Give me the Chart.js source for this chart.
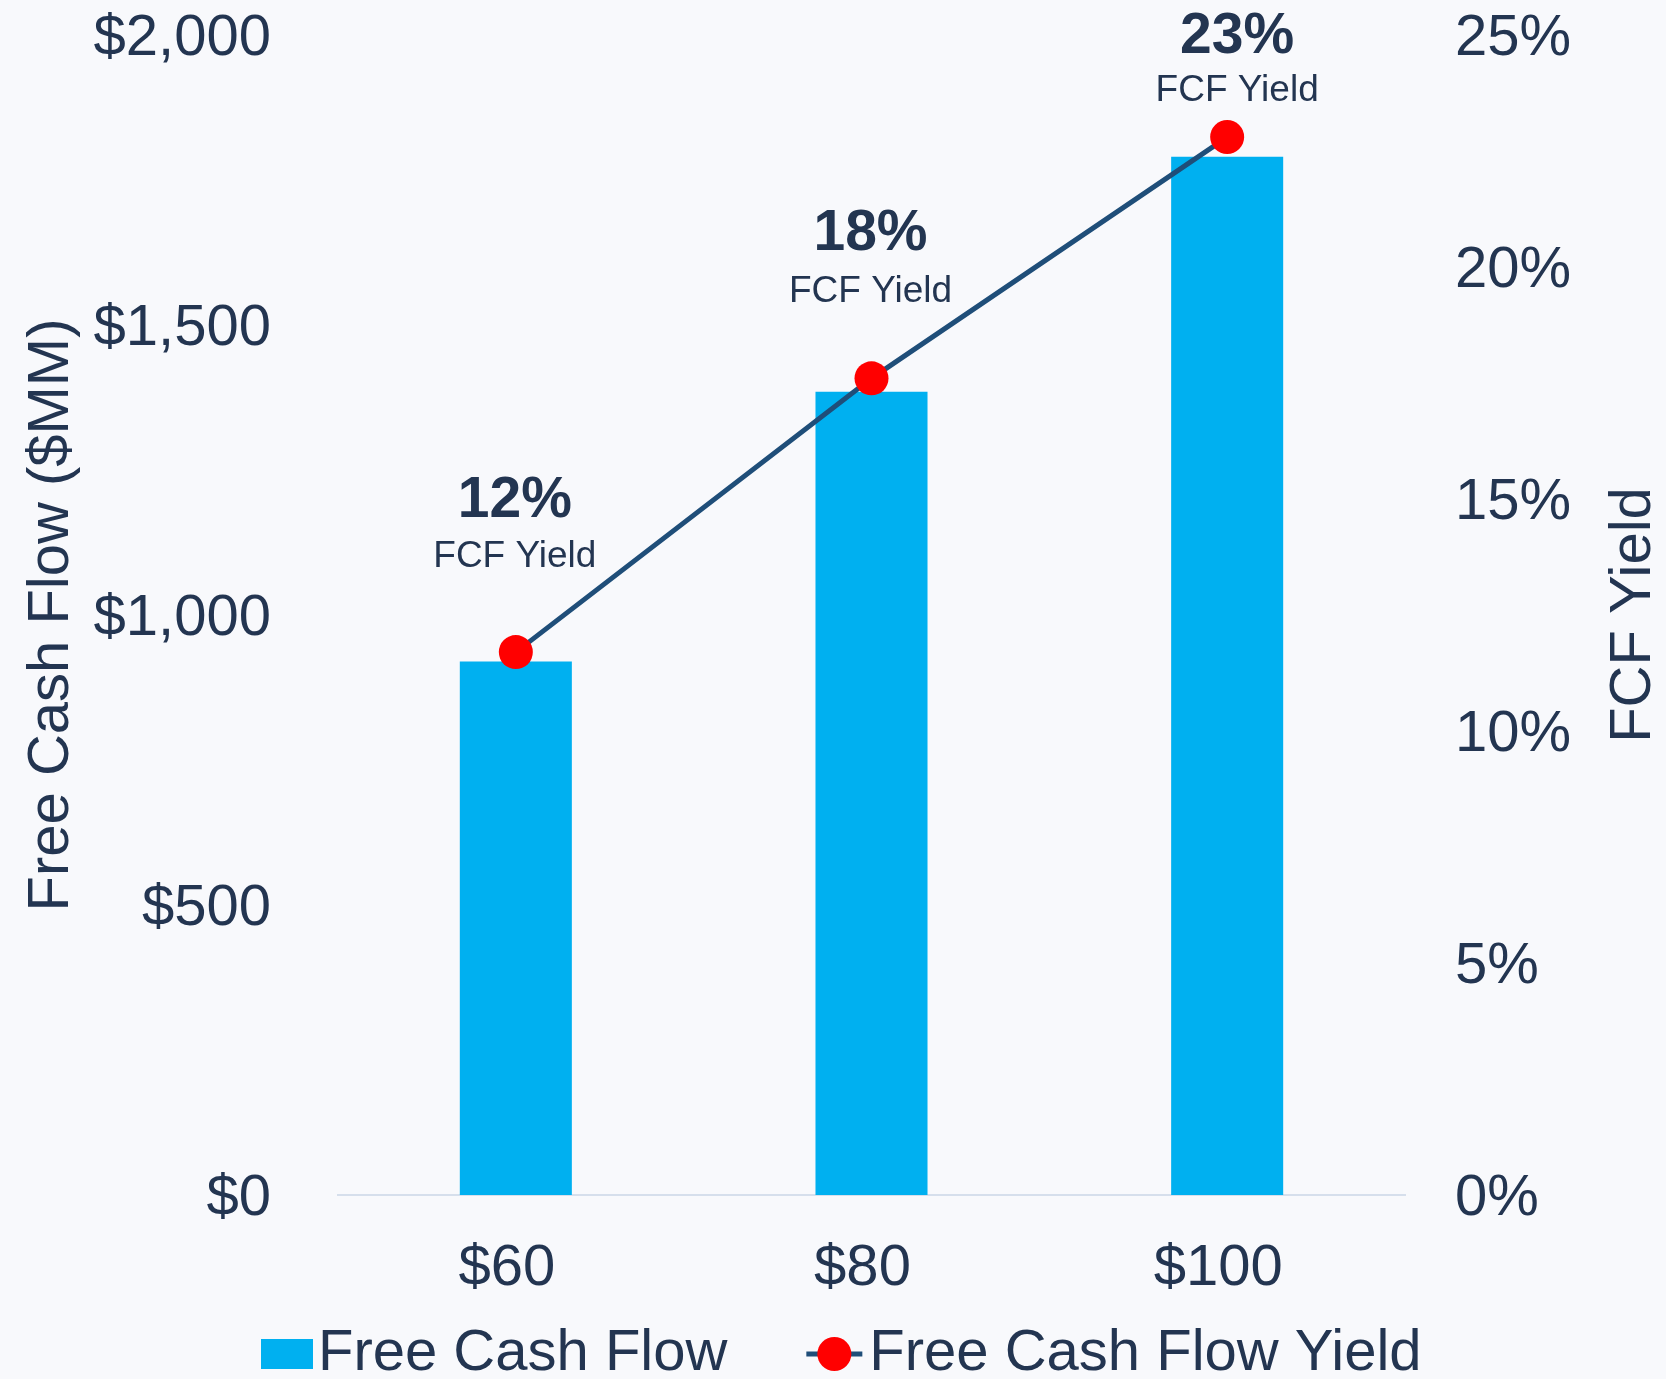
<!DOCTYPE html>
<html lang="en">
<head>
<meta charset="utf-8">
<title>Free Cash Flow vs FCF Yield</title>
<script src="https://cdn.jsdelivr.net/npm/chart.js@4.4.1/dist/chart.umd.min.js"></script>
<style>
  html, body { margin: 0; padding: 0; background: #f8f9fc; }
  canvas { display: block; }
</style>
</head>
<body>
<canvas id="chartFcf" width="1666" height="1379"></canvas>
<script>
/* ============================================================
   FREE CASH FLOW vs FCF YIELD — bars + line on two axes
   ============================================================ */

/* ------------------------------------------------------------
   1. DATA
------------------------------------------------------------ */

const oilPrices = ["$60", "$80", "$100"];
const freeCashFlow = [920, 1385, 1790];   // $MM
const fcfYield = [11.7, 17.6, 22.8];      // %

const cashTicks = [0, 500, 1000, 1500, 2000];
const yieldTicks = [0, 5, 10, 15, 20, 25];


/* ------------------------------------------------------------
   2. STYLE
------------------------------------------------------------ */

const TEXT = "#233551";
const FAMILY = "'Liberation Sans', Arial, sans-serif";
const BIG = { family: FAMILY, size: 58 };

Chart.defaults.font.family = FAMILY;
Chart.defaults.color = TEXT;

// where each yield label sits above its point (hand placed)
const labelShift = [
  { dx: -1, pct: 151, sub: 95 },
  { dx: -1, pct: 144, sub: 87 },
  { dx: 10, pct: 100, sub: 46 }
];

// fixed axis box: width in px, half a label of room above/below
function fixAxis(width) {
  return s => {
    s.width = width;
    s.paddingTop = 35;
    s.paddingBottom = 35;
  };
}


/* ------------------------------------------------------------
   3. PLUGINS — labels, right title, legend
------------------------------------------------------------ */

const yieldLabels = {
  id: "yieldLabels",
  afterDatasetsDraw(chart) {
    const ctx = chart.ctx;
    const meta = chart.getDatasetMeta(1);
    ctx.save();
    ctx.fillStyle = TEXT;
    ctx.textAlign = "center";
    ctx.textBaseline = "middle";
    meta.data.forEach((pt, i) => {
      const s = labelShift[i];
      ctx.font = "bold 57px " + FAMILY;
      ctx.fillText(Math.round(fcfYield[i]) + "%", pt.x + s.dx, pt.y - s.pct);
      ctx.font = "37px " + FAMILY;
      ctx.fillText("FCF Yield", pt.x + s.dx, pt.y - s.sub);
    });
    ctx.restore();
  }
};

const rightTitle = {
  id: "rightTitle",
  afterDraw(chart) {
    const ctx = chart.ctx;
    const area = chart.chartArea;
    ctx.save();
    ctx.translate(1634, (area.top + area.bottom) / 2);
    ctx.rotate(-Math.PI / 2);
    ctx.font = "58px " + FAMILY;
    ctx.fillStyle = TEXT;
    ctx.textAlign = "center";
    ctx.textBaseline = "middle";
    ctx.fillText("FCF Yield", 0, 0);
    ctx.restore();
  }
};

const bottomLegend = {
  id: "bottomLegend",
  afterDraw(chart) {
    const ctx = chart.ctx;
    const [bars, line] = chart.data.datasets;
    const y = 1354;
    let x = 261;

    ctx.save();
    ctx.font = "58px " + FAMILY;
    ctx.textBaseline = "middle";

    ctx.fillStyle = bars.backgroundColor;
    ctx.fillRect(x, y - 15, 52, 30);
    x += 57;
    ctx.fillStyle = TEXT;
    ctx.fillText(bars.label, x, y);
    x += ctx.measureText(bars.label).width + 79;

    ctx.strokeStyle = line.borderColor;
    ctx.lineWidth = line.borderWidth;
    ctx.beginPath();
    ctx.moveTo(x, y);
    ctx.lineTo(x + 56, y);
    ctx.stroke();
    ctx.fillStyle = line.pointBackgroundColor;
    ctx.beginPath();
    ctx.arc(x + 28, y, 17, 0, Math.PI * 2);
    ctx.fill();
    x += 63;
    ctx.fillStyle = TEXT;
    ctx.fillText(line.label, x, y);
    ctx.restore();
  }
};


/* ------------------------------------------------------------
   4. CHART
------------------------------------------------------------ */

new Chart(document.getElementById("chartFcf"), {
  type: "bar",
  data: {
    labels: oilPrices,
    datasets: [
      {
        type: "bar",
        label: "Free Cash Flow",
        data: freeCashFlow,
        backgroundColor: "#00b0f0",
        yAxisID: "y",
        barPercentage: 0.315,
        categoryPercentage: 1,
        order: 1
      },
      {
        type: "line",
        label: "Free Cash Flow Yield",
        data: fcfYield,
        yAxisID: "y1",
        borderColor: "#1f4e79",
        borderWidth: 5,
        pointRadius: 17,
        pointHoverRadius: 17,
        pointBackgroundColor: "#ff0000",
        pointBorderWidth: 0,
        tension: 0,
        order: 0
      }
    ]
  },
  options: {
    responsive: false,
    devicePixelRatio: 1,
    animation: false,
    layout: { padding: { top: 0, bottom: 74, left: 0, right: 0 } },
    plugins: {
      legend: { display: false },
      tooltip: { enabled: false }
    },
    scales: {
      x: {
        grid: { display: false },
        border: { display: true, color: "#d6dfec", width: 2 },
        ticks: { font: BIG, color: TEXT, padding: 31, labelOffset: -9 },
        afterFit: s => { s.height = 110; }
      },
      y: {
        position: "left",
        min: cashTicks[0],
        max: cashTicks[cashTicks.length - 1],
        afterBuildTicks: s => { s.ticks = cashTicks.map(v => ({ value: v })); },
        ticks: {
          font: BIG,
          color: TEXT,
          padding: 59,
          labelOffset: 4,
          callback: v => "$" + v.toLocaleString("en-US")
        },
        grid: { display: false },
        border: { display: false },
        title: {
          display: true,
          text: "Free Cash Flow ($MM)",
          font: BIG,
          color: TEXT,
          padding: { top: 17, bottom: 0 }
        },
        afterFit: fixAxis(338)
      },
      y1: {
        position: "right",
        min: yieldTicks[0],
        max: yieldTicks[yieldTicks.length - 1],
        afterBuildTicks: s => { s.ticks = yieldTicks.map(v => ({ value: v })); },
        ticks: {
          font: BIG,
          color: TEXT,
          padding: 42,
          labelOffset: 4,
          callback: v => v + "%"
        },
        grid: { display: false },
        border: { display: false },
        afterFit: fixAxis(261)
      }
    }
  },
  plugins: [yieldLabels, rightTitle, bottomLegend]
});
</script>
</body>
</html>
